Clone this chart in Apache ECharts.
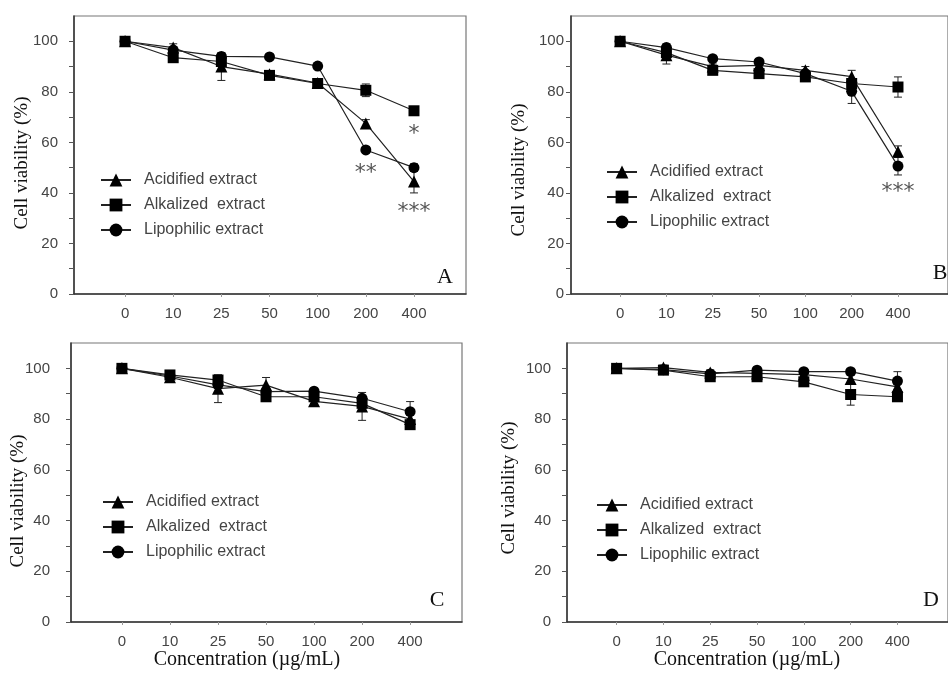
<!DOCTYPE html>
<html><head><meta charset="utf-8">
<script src="https://cdn.jsdelivr.net/npm/echarts@6/dist/echarts.min.js"></script>
<style>html,body{margin:0;padding:0;background:#fff}#c{width:948px;height:673px}</style>
</head><body><div id="c"></div>
<script>
// ---- data ----
const concLabels = ['0','10','25','50','100','200','400'];
const seriesNames = ['Acidified extract','Alkalized  extract','Lipophilic extract'];
const yTickValues = [0,10,20,30,40,50,60,70,80,90,100];
const yLabelValues = [0,20,40,60,80,100];

// Panel A
const acidA = [100, 97.5, 90, 87, 83.5, 67.5, 44.5];
const alkA  = [100, 93.5, 92, 86.5, 83.3, 80.6, 72.5];
const lipoA = [100, 96.5, 94, 93.8, 90.2, 57, 50];
const acidErrA = [1, 1.5, 5.5, 1, 1, 1.5, 4.5];
const alkErrA  = [1, 1, 1, 1, 1, 2.5, 1.5];
const lipoErrA = [1, 1, 1, 1, 1, 1, 1.5];
const acidSigA = ['', '', '', '', '', '', '***'];
const alkSigA  = ['', '', '', '', '', '', '*'];
const lipoSigA = ['', '', '', '', '', '**', ''];

// Panel B
const acidB = [100, 94.5, 90, 90.5, 88.5, 86, 56.3];
const alkB  = [100, 95.5, 88.5, 87.2, 85.9, 83.3, 81.9];
const lipoB = [100, 97.5, 93.1, 91.8, 87.2, 80.2, 50.6];
const acidErrB = [1, 3.5, 1, 1, 1.5, 2.5, 2.3];
const alkErrB  = [1, 1, 1, 1, 1, 1.5, 4];
const lipoErrB = [1, 1.5, 1, 1, 1, 4.8, 3.5];
const acidSigB = ['', '', '', '', '', '', ''];
const alkSigB  = ['', '', '', '', '', '', ''];
const lipoSigB = ['', '', '', '', '', '', '***'];

// Panel C
const acidC = [100, 96.5, 92, 93.4, 87, 85, 80];
const alkC  = [100, 97.4, 95.4, 88.8, 88.8, 86.2, 77.8];
const lipoC = [100, 97, 93.5, 90.8, 91, 88.2, 82.9];
const acidErrC = [1, 1, 5.5, 3, 1, 5.5, 1.5];
const alkErrC  = [1, 1, 1, 1, 1, 1, 1.5];
const lipoErrC = [1, 1, 1, 1, 1, 1, 4];

// Panel D
const acidD = [100, 100.3, 98.4, 98, 97.5, 95.8, 92.7];
const alkD  = [100, 99.3, 96.7, 96.7, 94.7, 89.7, 88.8];
const lipoD = [100, 99.5, 97.8, 99.3, 98.7, 98.7, 95];
const acidErrD = [1, 1, 1, 1, 1, 1.5, 1];
const alkErrD  = [1, 1, 1, 1, 1, 4.2, 1];
const lipoErrD = [1, 1, 1, 1, 1, 1, 3.7];

const panelLetters = ['A','B','C','D'];
const yTitle = 'Cell viability (%)';
const xTitle = 'Concentration (\u00b5g/mL)';

// ---- layout / style ----
const grids = [
  {left:74, top:16, width:392, height:278},
  {left:571, top:16, width:393, height:278},
  {left:71, top:343, width:391, height:279},
  {left:567, top:343, width:394, height:279}
];
const yLabelMargins = [16, 7, 21, 16];
const legendPos = [
  {left:100, top:172},
  {left:606, top:164},
  {left:102, top:494},
  {left:596, top:497}
];
const letterPos = [[445,277],[940,273],[437,600],[931,600]];
const yTitlePos = [[22,163],[519,170],[18,501],[509,488]];
const xTitlePos = [[247,660],[747,660]];
const sigLabelDist = [[14, 7, 7], [0, 0, 10], [0, 0, 0], [0, 0, 0]];

const panels = [
  {vals:[acidA,alkA,lipoA], errs:[acidErrA,alkErrA,lipoErrA], sigs:[acidSigA,alkSigA,lipoSigA]},
  {vals:[acidB,alkB,lipoB], errs:[acidErrB,alkErrB,lipoErrB], sigs:[acidSigB,alkSigB,lipoSigB]},
  {vals:[acidC,alkC,lipoC], errs:[acidErrC,alkErrC,lipoErrC], sigs:null},
  {vals:[acidD,alkD,lipoD], errs:[acidErrD,alkErrD,lipoErrD], sigs:null}
];
const symbols = ['triangle','rect','circle'];
const symbolSizes = [12, 11, 11];

const xAxes = [], yAxes = [], series = [], legends = [];
const idx = concLabels.map((_, i) => i);
grids.forEach((g, p) => {
  xAxes.push({
    type:'value', gridIndex:p, min:-1.06, max:7.08,
    axisLine:{show:true, onZero:false, lineStyle:{color:'#333', width:1.5}},
    axisTick:{show:true, customValues:idx, length:3, lineStyle:{color:'#999'}},
    axisLabel:{show:true, customValues:idx, formatter:v => concLabels[Math.round(v)] ?? '',
      margin:12, fontSize:15, color:'#444', fontFamily:'Liberation Sans'},
    splitLine:{show:false}
  });
  yAxes.push({
    type:'value', gridIndex:p, min:0, max:110,
    axisLine:{show:true, onZero:false, lineStyle:{color:'#333', width:1.5}},
    axisTick:{show:true, customValues:yTickValues, length:5, lineStyle:{color:'#555'}},
    axisLabel:{show:true, customValues:yLabelValues, margin:yLabelMargins[p], fontSize:15, color:'#444', fontFamily:'Liberation Sans'},
    splitLine:{show:false}
  });
  const pn = panels[p];
  // error bars
  pn.vals.forEach((vals, s) => {
    const errs = pn.errs[s];
    series.push({
      type:'custom', xAxisIndex:p, yAxisIndex:p, z:1, silent:true,
      data: vals.map((v, i) => [i, v - errs[i], v + errs[i]]),
      renderItem:(params, api) => {
        const lo = api.coord([api.value(0), api.value(1)]);
        const hi = api.coord([api.value(0), api.value(2)]);
        const cw = 4;
        return {type:'group', children:[
          {type:'line', shape:{x1:lo[0], y1:lo[1], x2:hi[0], y2:hi[1]}, style:{stroke:'#222', lineWidth:1}},
          {type:'line', shape:{x1:lo[0]-cw, y1:lo[1], x2:lo[0]+cw, y2:lo[1]}, style:{stroke:'#222', lineWidth:1}},
          {type:'line', shape:{x1:hi[0]-cw, y1:hi[1], x2:hi[0]+cw, y2:hi[1]}, style:{stroke:'#222', lineWidth:1}}
        ]};
      }
    });
  });
  pn.vals.forEach((vals, s) => {
    const sig = pn.sigs ? pn.sigs[s] : null;
    series.push({
      type:'line', name:seriesNames[s], xAxisIndex:p, yAxisIndex:p, z:2 + s,
      symbol:symbols[s], symbolSize:symbolSizes[s], showAllSymbol:true,
      itemStyle:{color:'#000'}, lineStyle:{color:'#222', width:1.2},
      emphasis:{disabled:true}, animation:false,
      data: vals.map((v, i) => {
        const item = {value:[i, v]};
        if (sig && sig[i]) {
          item.label = {show:true, formatter:sig[i], position:'bottom', distance:sigLabelDist[p][s],
            fontSize:22, color:'#555', fontFamily:'DejaVu Sans'};
        }
        return item;
      })
    });
  });
  legends.push({
    data:seriesNames, orient:'vertical', left:legendPos[p].left, top:legendPos[p].top,
    padding:0, itemWidth:30, itemHeight:16, itemGap:9, selectedMode:false,
    textStyle:{fontSize:16, color:'#444', fontFamily:'Liberation Sans', padding:[0,0,0,8], lineHeight:14}
  });
});

const graphics = [];
panelLetters.forEach((t, p) => {
  graphics.push({type:'text', x:letterPos[p][0], y:letterPos[p][1], z:10,
    style:{text:t, font:'22px "Liberation Serif"', fill:'#111', align:'center', verticalAlign:'middle'}});
  graphics.push({type:'text', x:yTitlePos[p][0], y:yTitlePos[p][1], rotation:Math.PI/2, z:10,
    style:{text:yTitle, font:'19px "Liberation Serif"', fill:'#111', align:'center', verticalAlign:'middle'}});
});
xTitlePos.forEach(pos => {
  graphics.push({type:'text', x:pos[0], y:pos[1], z:10,
    style:{text:xTitle, font:'20px "Liberation Serif"', fill:'#111', align:'center', verticalAlign:'middle'}});
});

const chart = echarts.init(document.getElementById('c'), null, {renderer:'canvas'});
chart.setOption({
  backgroundColor:'#fff', animation:false,
  grid: grids.map(g => Object.assign({show:true, borderColor:'#777', borderWidth:1.2, backgroundColor:'transparent'}, g)),
  xAxis:xAxes, yAxis:yAxes, legend:legends, series:series, graphic:graphics
});
</script></body></html>
